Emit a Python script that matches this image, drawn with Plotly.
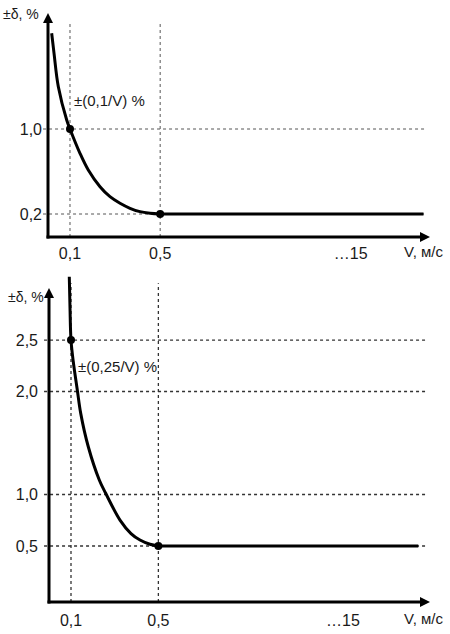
import plotly.graph_objects as go

# ---------------- data ----------------
# top chart: ±(0,1/V) %
top_curve_v = [0.0721, 0.0752, 0.0812, 0.0943, 0.1, 0.1195, 0.1386, 0.1709, 0.2042, 0.2441,
               0.2918, 0.3487, 0.4171, 0.5]
top_curve_d = [1.901, 1.712, 1.398, 1.085, 1.0, 0.771, 0.614, 0.457, 0.363, 0.301,
               0.254, 0.222, 0.207, 0.2]
top_flat_v = [0.5, 55]
top_flat_d = [0.2, 0.2]
top_dots_v = [0.1, 0.5]
top_dots_d = [1.0, 0.2]
top_xticks = [0.1, 0.5, 15]
top_xticktext = ["0,1", "0,5", "…15"]
top_yticks = [1.0, 0.2]
top_yticktext = ["1,0", "0,2"]
top_vlines = [0.1, 0.5]
top_hlines = [1.0, 0.2]

# bottom chart: ±(0,25/V) %
bot_curve_v = [0.0969, 0.0982, 0.1, 0.1043, 0.1123, 0.1196, 0.1375, 0.1684, 0.1895, 0.2466,
               0.302, 0.3565, 0.4285, 0.5]
bot_curve_d = [3.115, 2.808, 2.5, 2.289, 2.015, 1.788, 1.464, 1.141, 1.012, 0.752,
               0.621, 0.558, 0.517, 0.5]
bot_flat_v = [0.5, 60]
bot_flat_d = [0.5, 0.5]
bot_dots_v = [0.1, 0.5]
bot_dots_d = [2.5, 0.5]
bot_xticks = [0.1, 0.5, 15]
bot_xticktext = ["0,1", "0,5", "…15"]
bot_yticks = [2.5, 2.0, 1.0, 0.5]
bot_yticktext = ["2,5", "2,0", "1,0", "0,5"]
bot_vlines = [0.1, 0.5]
bot_hlines = [2.5, 2.0, 1.0, 0.5]

# ---------------- layout helpers ----------------
W, H = 450, 634
FONT = "Liberation Sans, Arial, sans-serif"
TXT = "#1a1a1a"


def px(x):
    return x / W


def py(y):
    return 1 - y / H


fig = go.Figure()

LINE = dict(color="black", width=3)
CURVE = dict(color="black", width=3, shape="spline", smoothing=1.0)

# top traces
fig.add_trace(go.Scatter(x=top_curve_v, y=top_curve_d, mode="lines", line=CURVE,
                         xaxis="x", yaxis="y"))
fig.add_trace(go.Scatter(x=top_flat_v, y=top_flat_d, mode="lines", line=LINE, xaxis="x", yaxis="y"))
fig.add_trace(go.Scatter(x=top_dots_v, y=top_dots_d, mode="markers", marker=dict(color="black", size=8),
                         xaxis="x", yaxis="y", cliponaxis=False))
# bottom traces
fig.add_trace(go.Scatter(x=bot_curve_v, y=bot_curve_d, mode="lines", line=CURVE,
                         xaxis="x2", yaxis="y2"))
fig.add_trace(go.Scatter(x=bot_flat_v, y=bot_flat_d, mode="lines", line=LINE, xaxis="x2", yaxis="y2"))
fig.add_trace(go.Scatter(x=bot_dots_v, y=bot_dots_d, mode="markers", marker=dict(color="black", size=8),
                         xaxis="x2", yaxis="y2", cliponaxis=False))

shapes = []
annotations = []


def grid(xa, ya, vlines, hlines, color, width):
    for v in vlines:
        shapes.append(dict(type="line", xref=xa, yref=ya + " domain", x0=v, x1=v,
                           y0=0, y1=0.96, line=dict(color=color, width=width, dash="3px,3px"), layer="below"))
    for h in hlines:
        shapes.append(dict(type="line", xref=xa + " domain", yref=ya, x0=-0.013, x1=0.987, y0=h, y1=h,
                           line=dict(color=color, width=width, dash="3px,3px"), layer="below"))


grid("x", "y", top_vlines, top_hlines, "#555555", 1)
grid("x2", "y2", bot_vlines, bot_hlines, "#333333", 1.3)


def axes_arrows(x0, y0, xtip, ytip):
    shapes.append(dict(type="line", xref="paper", yref="paper", x0=px(x0), x1=px(x0), y0=py(y0 + 1.5),
                       y1=py(ytip + 8), line=dict(color="black", width=3)))
    shapes.append(dict(type="line", xref="paper", yref="paper", x0=px(x0 - 1.5), x1=px(xtip - 8), y0=py(y0),
                       y1=py(y0), line=dict(color="black", width=3)))
    shapes.append(dict(type="path", xref="paper", yref="paper",
                       path=f"M {px(x0)} {py(ytip)} L {px(x0 - 5)} {py(ytip + 10)} L {px(x0 + 5)} {py(ytip + 10)} Z",
                       fillcolor="black", line=dict(color="black", width=0)))
    shapes.append(dict(type="path", xref="paper", yref="paper",
                       path=f"M {px(xtip)} {py(y0)} L {px(xtip - 10)} {py(y0 - 5)} L {px(xtip - 10)} {py(y0 + 5)} Z",
                       fillcolor="black", line=dict(color="black", width=0)))


axes_arrows(48, 237, 430, 13)
axes_arrows(49, 602, 430, 288)


def label(text, x, y, size):
    annotations.append(dict(text=text, x=px(x), y=py(y), xref="paper", yref="paper", showarrow=False,
                            xanchor="center", yanchor="middle", font=dict(family=FONT, size=size, color=TXT)))


label("±δ, %", 21, 14, 14)
label("V, м/с", 423, 252, 15)
label("±(0,1/V) %", 109, 100, 15)
label("±δ, %", 26, 297, 14)
label("V, м/с", 423, 618, 15)
label("±(0,25/V) %", 117, 367, 15)

tickfont = dict(family=FONT, size=16, color=TXT)
common_x = dict(type="log", showline=False, showgrid=False, zeroline=False, ticks="", tickmode="array",
                tickfont=tickfont)
common_y = dict(showline=False, showgrid=False, zeroline=False, ticks="", tickmode="array", tickfont=tickfont)

fig.update_layout(
    width=W, height=H,
    margin=dict(l=0, r=0, t=0, b=0),
    paper_bgcolor="white", plot_bgcolor="rgba(0,0,0,0)",
    showlegend=False,
    xaxis=dict(common_x, domain=[px(48), px(430)], range=[-1.1705, 1.7907], anchor="y",
               tickvals=top_xticks, ticktext=top_xticktext, ticklabelstandoff=5),
    yaxis=dict(common_y, domain=[py(237), py(13)], range=[-0.0165, 2.092], anchor="x",
               tickvals=top_yticks, ticktext=top_yticktext, ticklabelstandoff=5),
    xaxis2=dict(common_x, domain=[px(49), px(430)], range=[-1.176, 1.872], anchor="y2",
                tickvals=bot_xticks, ticktext=bot_xticktext, ticklabelstandoff=7),
    yaxis2=dict(common_y, domain=[py(602), py(270)], range=[-0.0437, 3.18], anchor="x2",
                tickvals=bot_yticks, ticktext=bot_yticktext, ticklabelstandoff=10),
    shapes=shapes,
    annotations=annotations,
)

fig.write_html("out.html")
